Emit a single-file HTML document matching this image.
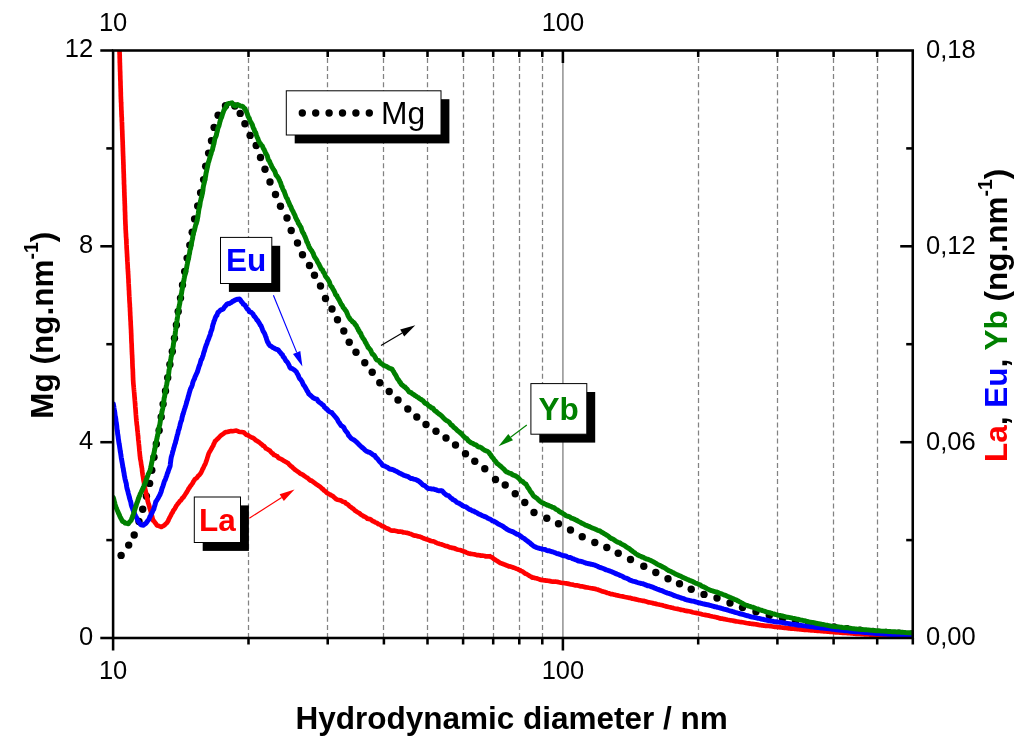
<!DOCTYPE html>
<html><head><meta charset="utf-8"><title>Hydrodynamic diameter</title>
<style>
html,body{margin:0;padding:0;background:#fff;}
svg{display:block;font-family:"Liberation Sans",Arial,sans-serif;}
.t{font-size:25.5px;fill:#000;}
.b{font-size:31.5px;font-weight:bold;fill:#000;}
</style></head><body>
<svg width="1024" height="743" viewBox="0 0 1024 743">
<rect width="1024" height="743" fill="#fff"/>
<defs><clipPath id="c"><rect x="113.1" y="50.5" width="799.65" height="587.5"/></clipPath></defs>
<g stroke="#828282" stroke-width="1.25" stroke-dasharray="5 3.1" fill="none">
<line x1="248.5" y1="638.0" x2="248.5" y2="50.5"/>
<line x1="327.5" y1="638.0" x2="327.5" y2="50.5"/>
<line x1="383.5" y1="638.0" x2="383.5" y2="50.5"/>
<line x1="427.5" y1="638.0" x2="427.5" y2="50.5"/>
<line x1="463.5" y1="638.0" x2="463.5" y2="50.5"/>
<line x1="493.5" y1="638.0" x2="493.5" y2="50.5"/>
<line x1="519.5" y1="638.0" x2="519.5" y2="50.5"/>
<line x1="542.5" y1="638.0" x2="542.5" y2="50.5"/>
<line x1="698.5" y1="638.0" x2="698.5" y2="50.5"/>
<line x1="777.5" y1="638.0" x2="777.5" y2="50.5"/>
<line x1="833.5" y1="638.0" x2="833.5" y2="50.5"/>
<line x1="877.5" y1="638.0" x2="877.5" y2="50.5"/>
</g>
<line x1="562.9" y1="50.5" x2="562.9" y2="638.0" stroke="#979797" stroke-width="1.6"/>
<g clip-path="url(#c)" fill="none" stroke-linejoin="round" stroke-linecap="round">
<g fill="#000" stroke="none"><circle cx="121.1" cy="555.4" r="3.7"/><circle cx="128.7" cy="545.1" r="3.7"/><circle cx="134.2" cy="535.0" r="3.7"/><circle cx="139.0" cy="521.5" r="3.7"/><circle cx="142.7" cy="509.2" r="3.7"/><circle cx="146.4" cy="496.2" r="3.7"/><circle cx="149.6" cy="483.4" r="3.7"/><circle cx="151.8" cy="470.3" r="3.7"/><circle cx="154.0" cy="457.2" r="3.7"/><circle cx="156.3" cy="444.0" r="3.7"/><circle cx="159.1" cy="430.5" r="3.7"/><circle cx="161.2" cy="417.0" r="3.7"/><circle cx="163.1" cy="404.1" r="3.7"/><circle cx="165.5" cy="390.9" r="3.7"/><circle cx="167.7" cy="377.8" r="3.7"/><circle cx="169.9" cy="364.5" r="3.7"/><circle cx="172.3" cy="351.4" r="3.7"/><circle cx="174.5" cy="338.2" r="3.7"/><circle cx="176.4" cy="325.0" r="3.7"/><circle cx="178.2" cy="311.5" r="3.7"/><circle cx="180.5" cy="298.1" r="3.7"/><circle cx="182.5" cy="285.0" r="3.7"/><circle cx="184.7" cy="271.5" r="3.7"/><circle cx="187.1" cy="258.1" r="3.7"/><circle cx="189.8" cy="245.1" r="3.7"/><circle cx="192.2" cy="232.2" r="3.7"/><circle cx="194.6" cy="218.9" r="3.7"/><circle cx="197.7" cy="205.9" r="3.7"/><circle cx="200.6" cy="192.7" r="3.7"/><circle cx="203.6" cy="179.6" r="3.7"/><circle cx="205.7" cy="166.2" r="3.7"/><circle cx="208.6" cy="153.1" r="3.7"/><circle cx="211.5" cy="140.8" r="3.7"/><circle cx="214.1" cy="127.4" r="3.7"/><circle cx="218.1" cy="115.3" r="3.7"/><circle cx="225.5" cy="105.8" r="3.7"/><circle cx="234.8" cy="106.0" r="3.7"/><circle cx="240.2" cy="113.4" r="3.7"/><circle cx="244.9" cy="123.7" r="3.7"/><circle cx="250.1" cy="135.4" r="3.7"/><circle cx="256.2" cy="145.5" r="3.7"/><circle cx="260.5" cy="157.5" r="3.7"/><circle cx="265.0" cy="169.2" r="3.7"/><circle cx="270.0" cy="182.0" r="3.7"/><circle cx="275.5" cy="194.5" r="3.7"/><circle cx="280.5" cy="206.2" r="3.7"/><circle cx="287.0" cy="218.0" r="3.7"/><circle cx="291.2" cy="230.5" r="3.7"/><circle cx="297.5" cy="243.0" r="3.7"/><circle cx="302.5" cy="254.8" r="3.7"/><circle cx="309.5" cy="265.5" r="3.7"/><circle cx="314.5" cy="275.2" r="3.7"/><circle cx="320.5" cy="286.0" r="3.7"/><circle cx="325.5" cy="298.5" r="3.7"/><circle cx="332.0" cy="309.0" r="3.7"/><circle cx="337.5" cy="319.8" r="3.7"/><circle cx="343.8" cy="331.0" r="3.7"/><circle cx="349.2" cy="342.2" r="3.7"/><circle cx="356.0" cy="352.2" r="3.7"/><circle cx="364.8" cy="362.8" r="3.7"/><circle cx="372.2" cy="372.2" r="3.7"/><circle cx="379.8" cy="382.8" r="3.7"/><circle cx="389.2" cy="391.5" r="3.7"/><circle cx="398.0" cy="400.0" r="3.7"/><circle cx="407.8" cy="409.0" r="3.7"/><circle cx="416.8" cy="417.0" r="3.7"/><circle cx="426.0" cy="424.5" r="3.7"/><circle cx="436.0" cy="431.2" r="3.7"/><circle cx="446.0" cy="438.0" r="3.7"/><circle cx="455.5" cy="445.0" r="3.7"/><circle cx="465.5" cy="453.8" r="3.7"/><circle cx="474.8" cy="461.2" r="3.7"/><circle cx="484.8" cy="468.8" r="3.7"/><circle cx="495.5" cy="479.5" r="3.7"/><circle cx="505.2" cy="485.0" r="3.7"/><circle cx="515.2" cy="493.8" r="3.7"/><circle cx="524.8" cy="502.5" r="3.7"/><circle cx="534.0" cy="512.5" r="3.7"/><circle cx="546.8" cy="518.2" r="3.7"/><circle cx="558.5" cy="523.8" r="3.7"/><circle cx="570.5" cy="530.0" r="3.7"/><circle cx="582.2" cy="536.8" r="3.7"/><circle cx="594.8" cy="542.5" r="3.7"/><circle cx="606.8" cy="547.5" r="3.7"/><circle cx="618.2" cy="553.2" r="3.7"/><circle cx="630.5" cy="559.5" r="3.7"/><circle cx="643.8" cy="566.2" r="3.7"/><circle cx="655.8" cy="572.5" r="3.7"/><circle cx="668.0" cy="578.8" r="3.7"/><circle cx="679.5" cy="583.8" r="3.7"/><circle cx="691.2" cy="589.2" r="3.7"/><circle cx="704.0" cy="594.4" r="3.7"/><circle cx="717.0" cy="598.0" r="3.7"/><circle cx="730.0" cy="603.0" r="3.7"/><circle cx="742.5" cy="607.6" r="3.7"/><circle cx="756.0" cy="611.8" r="3.7"/><circle cx="769.3" cy="615.4" r="3.7"/><circle cx="782.6" cy="618.5" r="3.7"/><circle cx="795.5" cy="621.2" r="3.7"/><circle cx="808.7" cy="623.6" r="3.7"/><circle cx="821.5" cy="625.6" r="3.7"/><circle cx="834.0" cy="627.0" r="3.7"/><circle cx="847.0" cy="628.7" r="3.7"/><circle cx="860.0" cy="630.2" r="3.7"/><circle cx="873.0" cy="631.5" r="3.7"/><circle cx="886.0" cy="632.5" r="3.7"/><circle cx="899.0" cy="633.3" r="3.7"/><circle cx="912.0" cy="634.0" r="3.7"/></g>
<polyline points="118.6,36.0 118.7,37.0 118.8,38.7 118.8,39.8 118.9,41.4 119.0,41.7 119.0,43.6 119.1,44.7 119.2,45.9 119.3,47.0 119.3,48.6 119.4,49.2 119.5,51.1 119.5,51.8 119.6,52.5 119.6,54.0 119.7,55.1 119.7,56.3 119.7,57.3 119.8,59.4 119.8,60.6 119.8,62.5 119.9,62.9 119.9,64.7 120.0,66.3 120.0,67.8 120.0,68.5 120.1,70.4 120.1,71.5 120.2,71.9 120.2,73.7 120.2,74.5 120.3,76.3 120.3,77.3 120.3,78.8 120.4,80.0 120.4,81.0 120.5,81.8 120.5,84.0 120.5,84.8 120.6,86.3 120.6,87.9 120.7,89.2 120.7,90.5 120.7,91.6 120.8,92.5 120.8,94.0 120.8,95.6 120.9,97.1 120.9,98.4 121.0,99.3 121.0,100.0 121.0,101.3 121.1,102.6 121.2,103.6 121.2,105.0 121.2,106.4 121.3,106.9 121.3,108.1 121.4,110.3 121.5,112.0 121.5,112.9 121.5,114.1 121.6,114.4 121.6,116.1 121.7,116.9 121.8,118.0 121.8,119.1 121.8,120.2 121.9,122.0 122.0,123.1 122.0,123.9 122.0,125.3 122.1,126.6 122.1,128.1 122.2,129.8 122.2,130.2 122.3,131.6 122.3,132.9 122.4,134.8 122.4,136.1 122.5,137.9 122.5,138.8 122.6,140.1 122.6,141.3 122.7,142.1 122.7,144.4 122.8,145.5 122.8,146.8 122.9,148.4 122.9,148.9 122.9,150.4 123.0,152.2 123.0,153.0 123.1,154.8 123.1,156.0 123.2,156.7 123.2,157.7 123.2,158.8 123.3,159.8 123.3,161.1 123.4,162.7 123.4,164.3 123.5,165.0 123.5,167.1 123.5,167.8 123.6,169.4 123.6,171.0 123.7,172.5 123.7,173.6 123.8,174.5 123.8,175.1 123.8,177.0 123.9,178.5 123.9,179.8 124.0,180.4 124.0,182.2 124.0,183.9 124.1,184.4 124.1,184.9 124.2,186.2 124.2,188.4 124.3,189.5 124.3,191.1 124.3,192.1 124.4,192.6 124.4,194.6 124.5,196.2 124.5,197.1 124.6,198.4 124.6,199.4 124.6,200.3 124.7,201.0 124.7,203.2 124.8,203.7 124.8,205.0 124.9,206.4 124.9,208.1 124.9,210.0 125.0,210.8 125.0,211.7 125.1,212.5 125.1,214.6 125.2,215.8 125.2,216.5 125.2,218.7 125.3,220.0 125.3,220.7 125.4,222.5 125.4,223.8 125.5,224.6 125.5,225.5 125.6,226.3 125.6,228.5 125.7,229.9 125.8,231.4 125.8,232.0 125.9,233.2 126.0,234.9 126.0,235.8 126.1,237.3 126.2,237.9 126.2,238.8 126.3,240.1 126.4,241.1 126.4,242.6 126.5,244.4 126.6,245.4 126.6,247.0 126.7,248.6 126.8,250.2 126.9,251.4 126.9,251.8 127.0,253.6 127.1,254.9 127.1,256.0 127.2,257.0 127.3,258.8 127.3,260.4 127.4,261.3 127.5,262.0 127.5,263.6 127.6,264.1 127.7,266.2 127.7,267.3 127.8,268.8 127.9,269.6 127.9,270.2 128.0,271.8 128.1,272.9 128.1,273.7 128.2,274.6 128.3,276.5 128.3,277.7 128.4,278.4 128.5,280.0 128.5,281.5 128.6,283.2 128.7,284.0 128.7,285.2 128.8,286.5 128.9,288.7 128.9,289.5 129.0,290.1 129.1,291.9 129.1,293.1 129.2,294.9 129.3,296.5 129.4,297.5 129.4,299.1 129.5,300.8 129.6,302.3 129.6,302.5 129.7,303.5 129.8,304.9 129.8,306.4 129.9,307.3 130.0,308.3 130.0,309.6 130.1,311.6 130.2,312.7 130.2,314.4 130.3,315.9 130.4,317.1 130.4,318.2 130.5,319.8 130.6,321.0 130.6,321.3 130.7,322.4 130.7,324.2 130.8,325.3 130.8,325.8 130.9,327.1 130.9,327.8 131.0,329.1 131.1,330.8 131.1,332.3 131.2,333.2 131.2,334.3 131.3,335.6 131.3,337.6 131.4,339.3 131.4,340.4 131.5,341.9 131.5,342.6 131.6,343.5 131.7,344.7 131.7,346.6 131.8,348.5 131.8,349.1 131.9,350.4 131.9,351.6 132.0,352.5 132.0,353.7 132.1,354.7 132.2,356.5 132.2,357.7 132.3,358.6 132.3,359.2 132.4,361.1 132.4,362.8 132.5,364.5 132.5,365.7 132.6,367.1 132.6,367.6 132.7,368.9 132.8,369.6 132.8,370.8 132.9,372.3 132.9,373.9 133.0,375.7 133.0,376.8 133.1,378.2 133.1,379.4 133.2,380.7 133.3,382.4 133.4,383.8 133.5,385.1 133.6,385.6 133.7,387.2 133.8,388.1 133.9,389.5 134.0,390.2 134.1,391.5 134.2,392.5 134.3,393.7 134.4,395.2 134.5,396.5 134.6,397.9 134.7,398.5 134.8,400.2 134.9,401.0 135.0,402.4 135.1,403.8 135.2,404.8 135.3,406.7 135.4,407.7 135.5,408.8 135.6,410.0 135.7,411.8 135.8,412.9 135.9,414.7 136.0,415.5 136.1,417.0 136.2,418.3 136.3,419.6 136.4,420.6 136.6,422.2 136.7,423.6 136.8,424.5 136.9,425.3 137.1,426.2 137.2,427.6 137.3,428.9 137.4,430.4 137.6,431.2 137.7,432.4 137.8,433.3 137.9,435.1 138.1,435.9 138.2,437.7 138.3,439.4 138.4,440.4 138.6,441.4 138.7,442.4 138.8,443.9 138.9,444.8 139.1,446.6 139.2,447.7 139.3,449.1 139.4,450.5 139.6,451.9 139.7,453.3 139.8,454.1 139.9,455.6 140.1,456.9 140.2,458.2 140.4,459.5 140.6,460.3 140.8,461.2 141.0,462.5 141.2,464.5 141.4,465.2 141.6,466.8 141.8,467.7 142.0,468.6 142.1,470.4 142.3,472.0 142.5,473.4 142.7,474.9 142.9,476.1 143.1,477.1 143.3,478.6 143.5,480.0 143.7,481.1 143.9,482.2 144.1,483.5 144.4,485.0 144.7,486.6 144.9,488.1 145.2,489.3 145.5,490.5 145.8,492.3 146.1,493.0 146.3,494.6 146.6,495.9 146.9,496.9 147.2,498.2 147.4,499.5 147.7,501.0 148.0,502.0 148.3,503.3 148.7,504.0 149.0,505.4 149.4,506.5 149.7,508.2 150.1,509.2 150.4,510.3 150.8,511.5 151.1,513.1 151.5,514.2 151.8,515.4 152.2,516.9 152.5,518.2 152.9,519.4 153.2,520.6 154.0,521.2 154.7,522.2 155.5,523.2 156.2,524.2 157.0,525.4 158.5,525.8 159.9,526.4 161.4,527.0 162.9,526.1 164.5,525.2 165.3,524.2 166.2,523.4 167.0,522.8 167.6,521.8 168.2,520.8 168.8,519.2 169.3,518.2 169.9,517.2 170.5,516.0 171.1,515.0 171.7,513.5 172.5,512.5 173.2,510.8 174.0,509.8 174.8,508.7 175.5,507.4 176.3,505.7 177.2,504.7 178.1,503.4 178.9,502.6 179.8,501.1 180.7,500.5 181.6,499.3 182.4,498.0 183.3,497.5 184.0,496.3 184.7,495.4 185.3,494.4 186.0,493.2 186.7,492.3 187.3,491.2 188.0,490.1 188.7,488.5 189.5,487.6 190.2,486.3 191.0,485.6 191.8,484.2 192.6,483.3 193.3,481.7 194.1,480.6 194.9,479.1 195.8,478.7 196.7,478.0 197.6,476.8 198.4,475.7 199.3,475.1 200.2,473.9 201.1,472.6 201.6,471.5 202.1,470.5 202.6,469.1 203.1,468.5 203.7,467.1 204.2,465.9 204.7,465.0 205.2,464.1 205.7,462.8 206.2,461.4 206.7,459.9 207.2,458.5 207.6,457.0 208.1,455.6 208.6,453.8 209.1,452.8 209.6,451.7 210.2,451.0 210.8,449.8 211.4,448.7 212.0,447.7 212.6,446.5 213.2,445.8 213.8,443.8 214.4,443.0 215.0,441.1 215.9,440.5 216.8,439.6 217.7,438.8 218.5,438.0 219.4,437.0 220.3,436.0 221.2,435.2 222.4,434.4 223.7,433.6 224.9,432.5 226.2,432.1 227.4,432.0 228.7,431.6 230.0,431.3 231.2,431.0 232.5,431.2 233.8,431.0 235.1,430.8 236.4,430.6 237.7,431.1 239.0,431.8 240.3,432.0 241.6,432.0 242.9,432.3 244.1,432.6 245.3,433.8 246.4,434.9 247.6,435.0 248.8,435.8 250.0,436.7 251.2,437.2 252.5,437.7 253.8,438.3 255.0,439.6 256.0,440.5 257.0,440.8 258.0,441.6 259.0,442.2 260.0,443.0 261.0,443.8 262.0,444.6 263.0,445.8 264.0,446.0 265.0,447.2 266.0,448.5 267.0,449.0 268.0,449.6 269.0,450.1 270.0,450.8 271.0,452.2 272.0,453.2 273.0,453.7 274.0,455.0 275.0,455.1 276.1,455.9 277.2,456.3 278.3,457.7 279.4,458.4 280.6,458.9 281.7,459.4 282.8,460.1 283.9,460.9 285.0,461.4 286.0,462.0 287.0,462.6 288.0,463.1 289.0,464.3 290.0,465.3 291.0,466.2 292.0,466.8 293.0,467.9 294.0,468.8 295.0,469.7 296.0,470.4 297.0,471.1 298.0,471.8 299.0,472.4 300.0,473.5 301.0,473.9 302.0,474.4 303.0,474.9 304.0,475.7 305.0,476.4 306.1,477.2 307.2,477.6 308.3,478.7 309.4,479.6 310.6,480.6 311.7,480.7 312.8,481.6 313.9,482.5 315.0,483.2 316.0,484.2 317.0,484.7 318.0,485.3 319.0,486.1 320.0,486.7 321.0,487.5 322.0,488.7 323.0,489.2 324.0,490.5 325.0,491.1 326.0,492.0 327.0,492.9 328.0,493.5 329.0,494.1 330.0,494.5 331.0,495.2 332.0,495.6 333.0,496.3 334.0,497.2 335.0,498.1 336.2,499.1 337.5,499.8 338.8,500.0 340.0,500.3 341.2,500.6 342.5,501.5 343.8,501.9 345.0,502.3 346.0,503.6 347.0,503.9 348.0,504.6 349.0,505.7 350.0,506.6 351.0,507.1 352.0,508.1 353.0,508.6 354.0,509.5 355.0,510.6 356.0,511.1 357.1,512.0 358.3,512.6 359.4,513.1 360.5,514.3 361.7,515.1 362.8,515.6 364.0,516.5 365.1,516.8 366.2,517.6 367.4,518.7 368.5,518.9 369.6,519.1 370.8,519.5 371.9,520.5 373.0,521.2 374.2,521.6 375.3,522.5 376.5,522.7 377.6,523.5 378.7,524.3 379.9,524.5 381.0,525.4 382.2,526.2 383.5,526.4 384.8,527.3 386.0,528.0 387.2,528.4 388.5,529.0 389.8,529.9 391.0,530.5 392.2,530.6 393.5,530.7 394.8,530.7 396.0,531.0 397.2,531.3 398.5,531.7 399.8,531.6 401.0,531.7 402.2,531.9 403.5,532.5 404.8,532.5 406.0,532.7 407.2,532.9 408.5,533.3 409.8,533.7 411.0,534.0 412.2,534.7 413.5,535.3 414.8,535.7 416.0,535.7 417.2,536.1 418.5,536.4 419.8,536.6 421.0,537.1 422.2,537.7 423.5,538.3 424.8,538.8 426.0,539.1 427.2,539.6 428.5,540.0 429.8,540.5 431.0,541.0 432.2,541.2 433.5,541.4 434.8,541.9 436.0,542.7 437.2,543.2 438.5,543.6 439.8,544.0 441.0,544.3 442.2,544.6 443.5,545.1 444.8,545.7 446.0,546.1 447.2,546.2 448.5,546.7 449.8,547.4 451.0,547.5 452.2,547.9 453.5,548.1 454.8,548.4 456.0,549.1 457.2,549.5 458.5,549.8 459.8,550.0 461.0,550.3 462.2,550.9 463.5,551.4 464.8,551.7 466.0,552.3 467.2,552.8 468.5,553.5 469.8,553.6 471.0,553.9 472.2,554.0 473.5,554.2 474.8,554.4 476.0,554.8 477.2,555.1 478.5,555.2 479.8,555.3 481.0,555.7 482.2,555.6 483.5,555.8 484.8,556.0 486.0,556.5 487.3,556.3 488.7,556.4 490.0,556.2 491.1,557.1 492.3,557.5 493.4,558.6 494.5,559.2 495.7,560.1 496.8,560.7 498.0,561.5 499.1,562.2 500.2,562.9 501.4,563.3 502.5,563.8 503.8,564.3 505.0,564.7 506.2,565.3 507.5,565.7 508.8,566.3 510.0,566.4 511.2,566.8 512.5,567.2 513.8,567.7 515.0,568.2 516.2,568.7 517.5,569.0 518.7,569.7 519.8,570.1 521.0,570.8 522.1,571.3 523.3,572.0 524.4,573.0 525.6,573.8 526.7,574.1 527.9,574.9 529.0,575.6 530.2,576.3 531.3,576.9 532.5,577.6 533.8,577.7 535.0,578.1 536.2,578.3 537.5,578.6 538.8,579.1 540.0,579.6 541.2,579.9 542.5,580.1 543.8,580.3 545.0,580.4 546.2,580.6 547.5,580.7 548.8,580.9 550.0,581.1 551.2,581.4 552.5,581.6 553.8,581.5 555.0,581.7 556.2,581.7 557.5,581.9 558.8,582.2 560.0,582.5 561.2,582.8 562.5,583.0 563.8,583.0 565.0,583.2 566.2,583.4 567.5,583.6 568.8,583.9 570.0,584.2 571.2,584.5 572.5,584.6 573.8,585.0 575.0,585.3 576.2,585.4 577.5,585.4 578.8,585.8 580.0,586.2 581.2,586.4 582.5,586.4 583.8,586.8 585.0,587.2 586.2,587.3 587.5,587.5 588.8,587.8 590.0,588.0 591.2,588.2 592.5,588.4 593.8,588.7 595.0,588.8 596.2,589.2 597.5,589.5 598.8,590.0 600.0,590.4 601.2,591.0 602.5,591.4 603.8,591.7 605.0,592.1 606.2,592.5 607.5,593.0 608.8,593.2 610.0,593.8 611.2,594.1 612.5,594.2 613.8,594.6 615.0,594.8 616.2,595.2 617.5,595.4 618.8,595.7 620.0,596.0 621.2,596.2 622.5,596.4 623.8,596.7 625.0,597.0 626.2,597.2 627.5,597.5 628.8,597.8 630.0,597.9 631.2,598.2 632.5,598.7 633.8,598.8 635.0,599.1 636.2,599.4 637.5,599.7 638.8,600.1 640.0,600.3 641.2,600.5 642.5,600.8 643.8,600.9 645.0,601.2 646.2,601.6 647.5,602.0 648.8,602.4 650.0,602.5 651.2,602.7 652.5,603.0 653.8,603.5 655.0,603.6 656.2,603.9 657.5,604.3 658.8,604.5 660.0,604.8 661.2,605.0 662.5,605.3 663.8,605.7 665.0,606.0 666.2,606.4 667.5,606.7 668.8,607.0 670.0,607.2 671.2,607.6 672.5,607.8 673.8,608.2 675.0,608.5 676.2,608.7 677.5,608.9 678.8,609.2 680.0,609.5 681.2,609.9 682.5,610.0 683.8,610.3 685.0,610.7 686.2,610.9 687.5,611.1 688.8,611.3 690.0,611.5 691.2,611.8 692.5,612.2 693.8,612.5 695.0,612.7 696.2,612.9 697.5,613.3 698.8,613.5 700.0,613.7 701.2,614.1 702.5,614.5 703.8,614.7 705.0,614.9 706.2,615.2 707.5,615.3 708.8,615.6 710.0,616.0 711.2,616.2 712.5,616.5 713.8,616.7 715.0,617.0 716.2,617.3 717.5,617.6 718.8,618.0 720.0,618.4 721.2,618.6 722.5,618.7 723.8,619.1 725.0,619.2 726.2,619.5 727.5,619.8 728.8,620.0 730.0,620.2 731.2,620.4 732.5,620.5 733.8,620.9 735.0,621.1 736.2,621.4 737.5,621.5 738.8,621.7 740.0,622.0 741.2,622.1 742.5,622.3 743.8,622.5 745.0,622.7 746.2,623.0 747.5,623.2 748.8,623.4 750.0,623.6 751.2,623.8 752.5,623.9 753.8,624.1 755.0,624.2 756.2,624.4 757.5,624.6 758.8,624.9 760.0,625.1 761.2,625.3 762.5,625.4 763.8,625.6 765.0,625.8 766.2,625.9 767.5,625.9 768.8,626.0 770.0,626.1 771.2,626.3 772.5,626.5 773.8,626.7 775.0,626.9 776.2,626.9 777.5,627.0 778.8,627.2 780.0,627.3 781.2,627.5 782.5,627.6 783.8,627.8 785.0,627.9 786.2,628.0 787.5,628.2 788.8,628.3 790.0,628.4 791.2,628.6 792.5,628.6 793.8,628.7 795.0,628.9 796.2,629.0 797.5,629.2 798.8,629.2 800.0,629.3 801.2,629.4 802.5,629.6 803.8,629.8 805.0,629.8 806.2,629.9 807.5,630.0 808.8,630.1 810.0,630.2 811.2,630.4 812.5,630.5 813.8,630.5 815.0,630.7 816.2,630.7 817.5,630.9 818.8,631.0 820.0,631.0 821.2,631.1 822.5,631.2 823.8,631.3 825.0,631.5 826.2,631.5 827.5,631.7 828.8,631.7 830.0,631.8 831.2,631.9 832.5,632.0 833.8,632.1 835.0,632.3 836.2,632.4 837.5,632.4 838.8,632.5 840.0,632.6 841.2,632.7 842.5,632.8 843.8,632.9 845.0,632.9 846.2,633.0 847.5,633.1 848.8,633.2 850.0,633.2 851.2,633.4 852.5,633.5 853.8,633.6 855.0,633.7 856.2,633.8 857.5,633.9 858.8,634.0 860.0,634.0 861.2,634.1 862.5,634.1 863.8,634.3 865.0,634.3 866.2,634.4 867.5,634.5 868.8,634.5 870.0,634.6 871.2,634.6 872.5,634.7 873.8,634.8 875.0,634.8 876.2,634.8 877.5,634.9 878.8,635.0 880.0,635.1 881.2,635.2 882.5,635.3 883.8,635.3 885.0,635.4 886.2,635.5 887.5,635.5 888.8,635.6 890.0,635.7 891.3,635.7 892.5,635.8 893.8,635.8 895.1,635.8 896.3,635.8 897.6,635.9 898.9,636.0 900.1,636.1 901.4,636.1 902.6,636.1 903.9,636.2 905.2,636.3 906.4,636.3 907.7,636.3 909.0,636.4 910.2,636.4 911.5,636.5 912.7,636.6 914.0,636.6" stroke="#ff0000" stroke-width="4.7"/>
<polyline points="113.4,404.0 113.6,406.0 113.8,406.2 114.0,408.1 114.2,409.3 114.4,410.6 114.6,411.6 114.8,412.6 115.0,414.4 115.2,416.0 115.3,416.7 115.5,417.1 115.7,418.4 115.9,419.9 116.0,421.4 116.2,422.1 116.4,423.2 116.6,425.0 116.8,426.3 116.9,428.1 117.1,429.5 117.3,431.0 117.5,432.0 117.6,433.5 117.8,434.8 118.0,435.7 118.2,437.1 118.3,438.4 118.5,439.6 118.7,441.2 118.9,442.5 119.1,443.8 119.3,444.5 119.5,445.8 119.7,447.3 119.9,448.6 120.1,450.0 120.2,450.9 120.4,452.2 120.6,453.0 120.8,454.5 121.0,455.7 121.2,457.3 121.4,458.6 121.6,459.6 121.8,460.7 122.0,461.8 122.2,462.9 122.5,464.6 122.7,465.8 122.9,467.3 123.2,468.2 123.4,469.6 123.6,471.1 123.9,472.4 124.1,473.5 124.3,475.3 124.6,476.5 124.8,477.7 125.1,479.3 125.4,480.1 125.7,481.7 126.0,482.6 126.3,483.7 126.5,485.5 126.8,487.2 127.1,488.7 127.4,489.6 127.7,490.8 128.0,491.7 128.3,493.3 128.6,494.5 129.0,495.6 129.3,497.2 129.6,498.4 129.9,499.3 130.2,500.3 130.6,501.4 130.9,502.8 131.2,504.6 131.7,506.4 132.1,507.4 132.6,508.6 133.1,510.1 133.6,511.4 134.1,512.5 134.5,513.3 135.0,514.6 135.6,516.0 136.2,517.0 136.8,518.2 137.4,519.7 138.0,521.0 139.0,522.2 140.0,523.8 141.0,524.8 142.2,525.0 143.5,525.2 144.8,524.0 146.0,523.3 146.9,522.1 147.8,520.7 148.8,519.6 149.4,518.0 150.0,516.5 150.6,515.7 151.2,514.1 151.9,513.0 152.5,511.7 153.1,510.2 153.8,509.3 154.1,508.0 154.4,506.7 154.8,505.6 155.1,504.6 155.5,502.9 155.8,501.7 156.5,500.9 157.2,499.6 157.9,498.5 158.6,497.3 159.3,495.8 160.0,494.7 160.4,493.4 160.8,492.6 161.2,491.6 161.6,489.9 162.0,488.6 162.4,487.4 162.8,486.6 163.2,485.3 163.6,484.0 164.1,482.3 164.7,480.5 165.2,479.9 165.7,478.5 166.2,476.8 166.7,475.8 167.1,474.4 167.5,472.9 168.0,472.3 168.4,470.6 168.8,469.5 169.2,468.5 169.7,467.2 170.1,466.3 170.3,464.7 170.4,463.0 170.6,462.0 170.8,460.4 170.9,459.2 171.1,458.5 171.2,457.3 171.6,456.2 171.9,455.0 172.3,453.8 172.6,452.1 173.0,450.9 173.3,450.1 173.7,448.2 174.0,447.4 174.3,446.3 174.7,444.7 175.0,443.8 175.4,443.0 175.7,441.2 176.1,440.1 176.4,439.0 176.7,437.4 177.1,435.9 177.4,434.6 177.8,433.6 178.1,432.3 178.4,430.5 178.8,429.7 179.1,428.9 179.4,427.7 179.8,426.1 180.1,424.7 180.5,423.2 180.8,422.0 181.1,421.3 181.5,420.4 181.8,419.2 182.1,417.3 182.5,416.0 182.8,414.4 183.2,413.9 183.5,412.5 183.9,411.3 184.3,409.9 184.6,408.8 185.0,407.8 185.4,406.5 185.8,405.3 186.2,403.9 186.6,402.6 186.9,401.2 187.3,400.0 187.7,399.0 188.1,397.1 188.5,395.7 188.9,394.5 189.2,393.1 189.6,392.0 190.0,390.4 190.4,389.2 190.9,387.9 191.3,387.5 191.8,386.1 192.2,385.1 192.7,383.0 193.1,381.6 193.6,380.4 194.0,379.6 194.5,378.7 194.9,377.3 195.4,376.1 195.8,375.4 196.2,374.3 196.7,373.3 197.2,372.4 197.6,371.3 198.1,369.5 198.5,368.2 199.0,366.5 199.4,365.6 199.9,364.3 200.3,362.8 200.8,360.9 201.2,359.6 201.7,359.3 202.2,358.1 202.6,356.5 203.1,355.4 203.5,353.7 204.0,351.9 204.4,351.1 204.9,349.1 205.3,347.7 205.8,346.4 206.2,345.0 206.7,344.1 207.1,343.0 207.5,341.2 207.9,340.7 208.3,339.6 208.8,338.4 209.2,337.1 209.6,336.0 210.0,335.3 210.4,333.8 210.7,332.4 211.1,331.3 211.5,330.3 211.8,329.8 212.2,328.0 212.5,326.3 212.9,324.8 213.3,323.6 213.6,323.0 214.0,321.1 214.6,320.2 215.1,318.4 215.7,316.8 216.3,315.9 216.9,315.5 217.4,313.7 218.0,312.4 219.0,311.7 220.0,310.6 221.1,309.8 222.1,309.6 223.1,309.1 224.1,307.6 225.1,306.3 226.1,305.1 227.1,304.0 228.2,303.6 229.2,303.7 230.2,303.0 231.4,302.5 232.6,301.4 233.8,300.9 235.0,300.1 236.5,299.5 238.0,299.1 239.5,299.0 240.4,299.9 241.4,301.7 242.4,302.6 243.3,304.2 244.1,304.5 245.0,305.2 245.8,306.7 246.7,308.1 247.5,309.2 248.4,309.7 249.2,311.5 250.1,312.0 251.1,312.1 252.1,313.2 253.0,313.9 253.8,315.9 254.6,316.5 255.3,317.3 256.1,318.5 256.9,319.9 257.7,320.5 258.4,321.8 259.0,322.7 259.7,323.8 260.3,325.1 261.0,325.8 261.5,326.9 262.1,328.5 262.6,329.9 263.1,331.2 263.7,332.0 264.2,332.9 264.7,333.8 265.1,334.8 265.6,336.3 266.1,337.3 266.5,339.0 267.0,340.4 267.6,342.1 268.2,342.6 268.7,344.1 269.3,344.7 269.9,345.7 271.3,346.3 272.6,347.4 274.0,348.0 275.1,348.8 276.2,349.3 277.3,349.5 278.4,350.0 279.4,351.6 280.5,352.7 281.5,354.2 282.4,354.7 283.2,356.8 284.1,357.5 285.0,359.2 285.8,360.7 286.7,361.4 287.5,362.5 288.3,363.8 289.1,365.3 289.8,367.3 290.6,368.3 292.1,368.4 293.5,369.4 294.9,370.5 296.3,371.8 297.0,373.3 297.6,374.2 298.3,375.5 299.0,377.2 299.7,378.7 300.4,379.2 301.2,380.4 301.9,381.3 302.6,382.9 303.3,384.7 304.1,385.5 304.8,386.6 305.5,387.9 306.3,389.2 307.1,390.9 307.9,391.9 308.7,393.8 309.5,394.5 310.7,395.4 311.8,396.5 313.0,397.6 314.3,398.4 315.7,398.9 317.0,399.2 318.1,401.2 319.2,402.2 320.4,403.0 321.5,403.8 322.5,404.9 323.5,405.3 324.4,407.1 325.4,408.0 326.4,409.0 327.3,409.5 328.2,410.7 329.2,411.6 330.1,412.0 331.0,412.3 332.0,412.8 332.9,414.1 333.9,415.2 334.8,416.3 335.8,417.5 336.6,418.4 337.5,419.7 338.3,421.6 339.2,422.6 340.0,423.9 341.1,425.5 342.3,426.2 343.4,427.0 344.1,428.0 344.9,429.9 345.6,430.8 346.3,431.7 347.1,432.6 347.8,433.5 348.5,435.4 349.3,436.1 350.0,437.0 351.2,438.4 352.4,439.1 353.6,439.7 354.8,440.6 356.0,441.6 357.0,442.6 358.0,443.6 359.0,444.6 360.0,445.5 361.0,446.5 362.0,447.4 363.0,448.1 364.0,449.0 365.0,450.1 366.0,450.9 367.1,451.4 368.2,452.0 369.3,452.1 370.4,452.9 371.5,453.6 372.6,454.4 373.7,455.2 374.8,455.5 375.5,456.9 376.3,457.9 377.1,458.4 377.9,459.2 378.7,460.5 379.5,461.5 380.3,462.3 381.1,463.0 381.9,464.2 382.7,465.5 383.5,465.8 384.8,466.0 386.0,466.8 387.2,467.1 388.5,468.3 389.8,469.0 391.0,469.2 392.2,469.5 393.5,469.8 394.6,470.6 395.8,471.0 396.9,471.6 398.0,472.2 399.2,473.1 400.3,473.4 401.5,474.1 402.6,474.5 403.7,475.4 404.9,475.6 406.0,476.0 407.2,476.3 408.5,476.8 409.8,477.9 411.0,478.5 412.2,478.5 413.5,479.1 414.8,479.4 416.0,479.7 417.2,480.4 418.5,480.9 419.5,481.7 420.5,482.5 421.5,483.6 422.5,484.6 423.5,485.3 424.5,485.5 425.5,486.2 426.5,487.3 427.5,488.1 428.5,488.5 429.8,488.6 431.0,488.8 432.2,489.1 433.5,489.0 434.8,489.6 436.0,489.7 437.2,490.3 438.5,490.7 439.8,490.8 441.0,490.6 442.2,490.9 443.3,492.1 444.4,493.5 445.4,494.1 446.5,495.1 447.5,495.4 448.6,495.7 449.7,496.8 450.7,497.9 451.8,498.4 452.8,499.6 453.9,500.1 454.9,500.5 456.0,501.6 457.1,502.5 458.3,503.0 459.4,503.3 460.5,504.3 461.7,504.8 462.8,505.8 464.0,506.4 465.1,506.6 466.2,507.1 467.4,507.9 468.5,508.8 469.6,509.6 470.8,509.8 471.9,510.7 473.0,510.9 474.2,511.4 475.3,512.1 476.5,512.5 477.6,513.3 478.7,514.0 479.9,514.3 481.0,515.1 482.1,515.6 483.3,516.0 484.4,516.5 485.5,516.8 486.7,517.4 487.8,518.2 489.0,518.7 490.1,519.2 491.2,519.8 492.4,520.9 493.5,521.1 494.6,521.6 495.8,522.2 496.9,523.0 498.0,523.9 499.2,524.3 500.3,525.0 501.5,525.5 502.6,526.2 503.7,526.9 504.9,527.9 506.0,528.5 507.2,529.4 508.3,530.0 509.5,530.6 510.6,531.0 511.8,531.5 512.9,531.7 514.1,532.7 515.2,533.1 516.4,533.9 517.5,534.4 518.7,534.7 519.8,535.6 521.0,536.4 522.0,537.3 523.0,538.0 524.0,538.3 525.0,539.2 526.0,540.0 527.0,540.7 528.0,541.5 529.0,542.3 530.0,542.9 531.0,544.0 532.0,544.8 533.0,545.6 534.0,546.4 535.0,546.8 536.0,547.3 537.3,547.7 538.6,548.2 539.9,548.5 541.1,548.6 542.4,549.3 543.7,549.4 545.0,549.5 546.2,550.2 547.5,550.7 548.8,550.7 550.0,551.1 551.2,551.5 552.5,551.8 553.8,552.3 555.0,552.6 556.2,553.2 557.5,553.8 558.8,553.8 560.0,554.5 561.2,554.9 562.5,555.4 563.8,555.8 565.0,555.8 566.2,556.2 567.5,557.0 568.8,557.5 570.0,557.5 571.2,557.8 572.5,558.7 573.8,559.0 575.0,559.6 576.2,559.9 577.5,560.6 578.8,561.1 580.0,561.2 581.2,561.4 582.5,561.8 583.8,562.3 585.0,562.7 586.2,563.2 587.5,563.4 588.8,563.8 590.0,563.9 591.2,564.4 592.5,564.5 593.8,564.8 595.0,565.1 596.2,565.8 597.5,566.3 598.8,567.0 600.0,567.5 601.2,567.7 602.5,568.2 603.8,568.7 605.0,569.4 606.2,569.9 607.5,570.2 608.8,570.7 610.0,571.1 611.2,571.5 612.4,572.1 613.5,572.5 614.7,573.1 615.9,573.6 617.1,574.1 618.2,574.5 619.4,575.1 620.6,575.6 621.8,576.0 622.9,576.7 624.1,577.5 625.3,577.9 626.5,578.2 627.6,578.7 628.8,579.4 630.0,580.2 631.2,580.5 632.5,581.1 633.8,581.4 635.0,581.7 636.2,582.0 637.5,582.5 638.8,582.9 640.0,583.2 641.2,583.5 642.5,583.6 643.8,584.2 645.0,584.6 646.2,585.1 647.5,585.7 648.8,585.8 650.0,586.3 651.2,586.8 652.4,587.0 653.5,587.5 654.7,588.2 655.9,588.5 657.1,589.1 658.2,589.4 659.4,589.9 660.6,590.3 661.8,590.7 662.9,591.1 664.1,591.7 665.3,592.2 666.5,592.7 667.6,593.1 668.8,593.4 670.0,593.8 671.2,594.2 672.5,594.8 673.8,595.4 675.0,595.9 676.2,596.2 677.5,596.7 678.8,597.1 680.0,597.5 681.2,598.0 682.5,598.3 683.8,598.6 685.0,599.3 686.2,599.7 687.5,600.1 688.8,600.3 690.0,600.6 691.2,601.0 692.5,601.1 693.8,601.3 695.0,601.8 696.2,602.0 697.5,602.4 698.8,602.9 700.0,603.0 701.2,603.3 702.5,603.7 703.8,603.9 705.0,604.3 706.2,604.5 707.5,604.7 708.8,605.0 710.0,605.3 711.2,605.7 712.5,606.0 713.8,606.5 715.0,606.7 716.2,606.9 717.5,607.4 718.8,607.6 720.0,608.0 721.2,608.2 722.5,608.7 723.8,609.1 725.0,609.4 726.2,609.7 727.5,610.0 728.8,610.5 730.0,610.9 731.2,611.2 732.5,611.5 733.8,611.9 735.0,612.3 736.2,612.6 737.5,613.0 738.8,613.4 740.0,613.8 741.2,614.0 742.5,614.3 743.8,614.7 745.0,615.1 746.2,615.5 747.5,615.7 748.8,616.1 750.0,616.5 751.2,616.8 752.5,617.1 753.8,617.3 755.0,617.6 756.2,617.8 757.5,618.2 758.8,618.4 760.0,618.7 761.2,619.0 762.5,619.2 763.8,619.5 765.0,619.9 766.2,620.0 767.5,620.3 768.8,620.7 770.0,620.9 771.2,621.1 772.5,621.2 773.8,621.5 775.0,621.7 776.2,621.8 777.5,622.0 778.8,622.1 780.0,622.3 781.2,622.4 782.5,622.6 783.8,622.9 785.0,623.2 786.2,623.3 787.5,623.4 788.8,623.6 790.0,623.8 791.2,624.1 792.5,624.3 793.8,624.4 795.0,624.5 796.2,624.8 797.5,625.0 798.8,625.2 800.0,625.3 801.2,625.4 802.5,625.6 803.8,625.8 805.0,625.9 806.2,626.0 807.5,626.2 808.8,626.3 810.0,626.5 811.2,626.7 812.5,626.8 813.8,627.0 815.0,627.2 816.2,627.3 817.5,627.5 818.8,627.6 820.0,627.8 821.2,628.0 822.5,628.1 823.8,628.2 825.0,628.3 826.2,628.5 827.5,628.6 828.8,628.7 830.0,628.9 831.2,629.0 832.5,629.2 833.8,629.4 835.0,629.6 836.2,629.7 837.5,629.8 838.8,630.0 840.0,630.1 841.2,630.2 842.5,630.3 843.8,630.5 845.0,630.7 846.2,630.8 847.5,630.9 848.8,631.1 850.0,631.3 851.2,631.3 852.5,631.5 853.8,631.6 855.0,631.7 856.2,631.8 857.5,631.8 858.8,631.9 860.0,632.0 861.2,632.1 862.5,632.2 863.8,632.3 865.0,632.5 866.2,632.6 867.5,632.6 868.8,632.8 870.0,632.9 871.2,633.0 872.5,633.1 873.8,633.2 875.0,633.4 876.2,633.5 877.5,633.5 878.8,633.6 880.0,633.7 881.3,633.8 882.5,633.9 883.8,634.1 885.0,634.1 886.3,634.1 887.6,634.2 888.8,634.3 890.1,634.4 891.3,634.4 892.6,634.5 893.9,634.6 895.1,634.7 896.4,634.8 897.6,634.9 898.9,635.0 900.1,635.0 901.4,635.1 902.7,635.2 903.9,635.3 905.2,635.3 906.4,635.4 907.7,635.4 909.0,635.5 910.2,635.6 911.5,635.6 912.7,635.7 914.0,635.7" stroke="#0000ff" stroke-width="4.95"/>
<polyline points="113.3,497.5 113.6,498.7 114.0,500.2 114.3,501.6 114.7,502.8 115.0,504.1 115.5,505.9 116.0,507.2 116.5,508.3 117.0,509.6 117.5,510.8 118.0,511.9 118.5,513.3 119.0,514.1 119.5,515.5 120.1,516.8 120.7,518.0 121.3,519.0 121.9,520.2 122.5,521.4 123.8,521.8 125.0,523.0 126.7,523.4 128.3,523.7 129.1,522.6 129.8,521.7 130.6,520.9 131.3,520.1 131.7,518.7 132.2,517.7 132.6,516.6 133.0,515.2 133.4,514.0 133.9,512.3 134.3,511.4 134.7,509.8 135.2,508.4 135.6,507.1 136.0,506.0 136.4,504.5 136.8,503.2 137.3,502.2 137.7,500.9 138.2,499.3 138.7,498.0 139.2,496.5 139.7,495.4 140.2,494.0 140.7,493.0 141.2,492.2 141.7,490.9 142.2,489.8 142.7,488.7 143.2,487.8 143.8,486.4 144.3,484.9 144.8,484.2 145.3,482.7 145.8,481.4 146.2,479.9 146.6,478.8 147.0,477.8 147.4,476.6 147.8,475.6 148.4,473.8 148.9,473.2 149.4,471.9 150.0,470.8 150.3,469.4 150.6,468.1 150.9,466.6 151.2,465.5 151.4,464.3 151.7,462.7 152.0,461.6 152.3,459.9 152.6,458.7 152.9,457.1 153.2,456.1 153.6,454.8 153.9,453.2 154.2,452.2 154.5,450.3 154.7,449.0 155.0,448.3 155.2,446.6 155.5,445.9 155.7,444.8 156.0,442.9 156.2,442.0 156.5,440.6 156.7,439.3 157.0,438.4 157.2,436.8 157.4,436.4 157.7,435.2 157.9,434.2 158.1,433.2 158.4,431.9 158.6,430.1 158.8,428.4 159.1,427.4 159.3,426.2 159.6,425.4 159.8,424.6 160.0,423.4 160.3,421.4 160.5,419.9 160.7,419.0 160.9,417.9 161.2,416.7 161.4,415.3 161.6,414.3 161.8,412.8 162.0,411.8 162.2,410.4 162.4,409.9 162.7,408.5 162.9,407.3 163.1,405.2 163.3,403.8 163.6,402.7 163.8,401.5 164.0,399.5 164.2,397.8 164.4,397.7 164.7,395.8 164.9,394.4 165.1,393.3 165.4,392.3 165.6,390.6 165.8,389.2 166.0,388.5 166.2,386.6 166.4,385.6 166.6,384.9 166.8,384.0 167.0,382.4 167.3,381.3 167.5,380.1 167.7,378.7 167.9,377.7 168.1,375.9 168.3,375.1 168.5,374.4 168.7,373.5 168.9,371.5 169.1,369.8 169.3,369.1 169.5,368.1 169.7,366.9 169.9,364.8 170.1,362.8 170.4,361.9 170.6,359.9 170.9,359.1 171.1,357.3 171.3,356.1 171.6,355.5 171.8,354.8 172.1,353.2 172.3,351.9 172.5,350.3 172.7,349.3 173.0,347.1 173.2,346.2 173.4,344.4 173.6,343.0 173.8,342.2 174.1,340.6 174.3,339.1 174.5,337.5 174.7,337.0 174.9,335.6 175.1,334.5 175.3,333.2 175.4,331.7 175.6,330.6 175.8,328.7 176.0,328.0 176.2,326.5 176.4,324.6 176.6,323.1 176.8,321.7 176.9,321.1 177.1,319.6 177.3,318.5 177.5,317.1 177.7,315.2 177.8,313.9 178.0,312.2 178.2,311.1 178.4,309.8 178.7,308.8 178.9,307.8 179.1,306.9 179.3,305.5 179.6,304.4 179.8,303.3 180.0,301.4 180.3,299.7 180.5,299.0 180.7,297.8 181.0,295.7 181.2,294.2 181.5,293.7 181.7,292.1 181.9,290.6 182.2,289.4 182.4,287.7 182.7,286.3 182.9,285.3 183.1,283.5 183.4,282.5 183.6,281.1 183.9,280.6 184.1,279.0 184.4,277.5 184.6,276.2 184.9,275.4 185.1,274.5 185.4,273.4 185.6,271.7 185.9,270.7 186.2,269.1 186.5,268.5 186.8,266.6 187.1,265.0 187.3,264.0 187.6,262.3 187.9,261.1 188.2,259.5 188.5,258.2 188.8,257.2 189.0,255.5 189.3,254.3 189.6,253.1 189.8,251.3 190.1,249.7 190.4,249.0 190.7,247.9 190.9,246.1 191.2,245.0 191.5,243.4 191.7,242.3 192.0,240.6 192.3,239.6 192.6,238.4 192.8,236.6 193.1,234.9 193.4,234.5 193.6,232.7 193.9,231.7 194.2,231.2 194.6,229.7 194.9,228.1 195.2,227.0 195.6,225.3 195.9,224.4 196.2,223.7 196.5,222.7 196.9,221.3 197.2,220.3 197.4,218.9 197.6,217.8 197.9,216.4 198.1,214.5 198.3,213.5 198.5,212.2 198.7,210.5 199.0,208.8 199.2,208.0 199.4,207.1 199.7,206.0 199.9,204.8 200.2,202.6 200.5,200.9 200.8,200.2 201.0,199.0 201.3,197.8 201.6,196.9 201.8,196.0 202.1,194.5 202.4,193.4 202.6,192.1 202.9,190.6 203.1,188.2 203.4,186.3 203.7,184.9 203.9,184.2 204.2,182.9 204.5,181.4 204.8,180.4 205.0,178.9 205.3,177.9 205.6,176.3 205.8,174.9 206.1,172.8 206.4,171.9 206.7,170.3 207.1,168.5 207.4,167.1 207.8,165.2 208.1,163.9 208.4,162.3 208.8,161.4 209.1,160.3 209.5,158.9 209.9,157.5 210.3,156.0 210.7,154.8 211.1,153.8 211.5,151.8 211.9,151.0 212.3,150.0 212.6,149.1 212.9,147.2 213.2,146.5 213.5,144.8 213.8,144.2 214.1,142.7 214.5,140.6 214.8,139.1 215.1,137.8 215.5,137.4 215.8,136.7 216.1,135.9 216.5,134.6 216.8,132.8 217.1,131.9 217.5,130.4 217.8,128.7 218.1,127.7 218.4,127.1 218.8,126.2 219.1,125.2 219.4,124.1 219.8,122.2 220.1,121.3 220.6,119.3 221.1,118.4 221.6,117.2 222.1,115.5 222.5,114.2 223.0,112.9 223.5,111.5 224.0,110.1 224.6,109.3 225.2,108.3 225.8,107.3 226.4,105.3 227.6,103.9 228.7,103.5 230.3,103.2 232.0,102.8 232.8,103.8 233.6,105.3 235.2,106.0 236.4,105.4 237.6,104.6 239.0,105.2 240.3,106.0 241.7,106.1 242.8,106.5 243.8,107.8 244.9,108.5 245.5,110.0 246.2,111.1 246.8,112.7 247.5,114.5 248.1,116.4 248.6,117.3 249.2,118.2 249.7,119.9 250.2,121.1 250.8,122.0 251.3,123.0 251.9,124.0 252.4,124.9 252.9,126.8 253.5,128.4 254.1,129.2 254.6,131.2 255.2,131.9 255.7,132.6 256.3,134.7 256.9,136.6 257.5,137.9 258.0,138.9 258.6,140.8 259.4,142.2 260.2,143.2 261.0,144.8 261.8,145.5 262.3,145.9 262.9,147.4 263.4,148.6 264.0,149.3 264.5,150.4 265.1,151.8 265.6,153.4 266.2,153.9 266.7,154.9 267.3,156.0 267.8,158.0 268.4,160.0 268.9,160.5 269.5,161.3 270.0,162.7 270.6,163.9 271.2,164.9 271.8,166.8 272.4,167.4 272.9,168.6 273.5,169.3 274.1,170.4 274.7,171.0 275.3,172.8 275.9,174.7 276.5,175.8 277.1,175.9 277.6,177.0 278.2,177.8 278.8,178.8 279.4,180.3 280.0,181.6 280.5,182.5 281.1,184.4 281.6,186.3 282.1,186.8 282.6,188.5 283.2,189.8 283.7,190.8 284.2,191.3 284.7,193.1 285.3,194.7 285.8,196.1 286.3,197.5 286.8,198.3 287.4,198.8 287.9,200.6 288.4,201.8 288.9,202.7 289.5,204.2 290.0,205.6 290.6,206.2 291.1,207.4 291.7,209.2 292.2,210.0 292.8,211.1 293.3,212.0 293.9,213.6 294.4,214.3 295.0,215.5 295.6,217.5 296.1,218.4 296.7,219.7 297.2,220.6 297.8,221.3 298.3,223.3 298.9,223.9 299.4,224.6 300.0,225.9 300.5,226.6 301.1,227.6 301.6,229.3 302.1,231.1 302.6,232.2 303.2,233.1 303.7,233.7 304.2,235.0 304.7,236.1 305.3,237.4 305.8,238.6 306.3,240.0 306.8,241.8 307.4,242.3 307.9,243.8 308.4,244.8 308.9,246.3 309.5,247.9 310.0,248.3 310.6,249.5 311.2,250.2 311.9,250.8 312.5,252.3 313.1,253.0 313.8,255.3 314.4,256.7 315.0,257.5 315.6,258.6 316.2,259.2 316.9,260.4 317.5,262.0 318.1,262.9 318.8,263.9 319.4,265.2 320.0,266.5 320.6,267.6 321.2,269.2 321.9,269.3 322.5,269.8 323.1,271.6 323.8,272.7 324.4,273.2 325.0,275.1 325.6,276.3 326.2,277.2 326.9,278.1 327.5,278.7 328.1,279.8 328.8,280.8 329.4,282.0 330.0,284.1 330.6,285.6 331.2,286.3 331.9,286.9 332.5,288.2 333.1,289.2 333.8,290.4 334.4,291.6 335.0,293.0 335.6,294.6 336.2,295.3 336.9,295.7 337.5,297.6 338.1,298.2 338.8,299.6 339.4,300.4 340.0,301.9 340.6,303.0 341.2,304.3 341.9,304.9 342.5,305.8 343.1,307.4 343.8,308.2 344.4,308.8 345.0,309.9 345.6,310.4 346.2,311.2 346.9,312.9 347.5,314.2 348.1,315.9 348.8,317.2 349.4,317.9 350.0,319.1 350.9,320.0 351.7,320.5 352.6,322.1 353.4,322.2 354.3,323.0 355.1,324.5 356.0,325.2 356.6,326.4 357.2,327.8 357.9,328.6 358.5,330.4 359.1,330.8 359.8,332.6 360.4,332.8 361.0,334.1 361.6,336.0 362.2,336.7 362.9,338.2 363.5,338.8 364.1,339.7 364.8,340.8 365.4,342.4 366.0,343.0 366.7,344.6 367.4,345.7 368.1,347.5 368.9,348.1 369.6,349.0 370.3,349.7 371.0,351.1 371.7,352.7 372.4,354.2 373.1,354.3 373.9,355.2 374.6,356.2 375.3,357.4 376.0,358.9 376.9,360.1 377.9,360.2 378.8,360.6 379.8,362.0 380.7,363.2 381.6,363.9 382.6,364.3 383.5,365.4 384.8,365.7 386.0,366.2 387.2,366.9 388.5,367.7 389.8,368.4 391.0,368.7 392.2,369.3 392.9,370.7 393.6,371.4 394.3,373.1 394.9,374.0 395.6,375.0 396.3,376.2 397.0,377.9 397.6,378.8 398.3,379.6 399.0,380.7 399.7,382.0 400.3,382.4 401.0,383.9 402.0,384.9 403.0,385.6 404.0,386.7 405.0,386.9 406.0,388.3 407.0,389.0 408.0,390.4 409.0,391.8 410.0,392.4 411.0,392.4 412.0,393.5 413.0,394.2 414.0,394.7 415.0,395.6 416.0,396.0 417.0,396.9 418.0,397.4 419.0,398.1 420.0,399.0 421.0,399.4 422.0,400.1 423.0,400.6 424.0,402.0 425.0,403.3 426.0,403.5 427.0,403.9 428.0,405.1 429.0,406.2 430.0,406.4 431.0,407.4 432.0,408.1 433.1,408.3 434.1,410.0 435.2,411.1 436.2,411.4 437.2,412.5 438.3,413.4 439.3,414.2 440.4,414.9 441.4,415.7 442.5,416.8 443.5,418.0 444.5,418.9 445.4,419.8 446.4,420.5 447.3,420.9 448.3,421.5 449.3,422.4 450.2,423.7 451.2,425.1 452.2,425.4 453.1,426.5 454.1,427.6 455.0,428.1 456.0,429.2 456.9,430.0 457.8,430.9 458.7,431.6 459.6,432.1 460.5,433.3 461.4,433.4 462.2,434.7 463.1,435.8 464.0,436.7 464.9,437.5 465.8,438.2 466.7,438.6 467.6,439.7 468.5,441.0 469.6,441.7 470.7,442.5 471.8,443.1 472.9,443.4 474.1,444.4 475.2,444.7 476.3,445.1 477.4,446.2 478.5,447.0 479.8,447.0 481.0,447.6 482.2,448.5 483.5,449.5 484.8,450.3 486.0,450.9 487.2,451.1 488.5,452.1 489.2,452.9 490.0,454.2 490.8,455.0 491.5,456.4 492.2,457.3 493.0,458.0 493.8,459.1 494.5,460.5 495.2,460.9 496.0,461.8 497.0,463.5 498.0,464.0 499.0,464.9 500.0,465.7 501.0,466.5 502.0,467.5 503.0,468.4 504.0,469.2 505.0,470.5 506.0,471.6 507.2,472.1 508.5,472.7 509.8,473.4 511.0,473.5 512.2,474.5 513.5,475.2 514.8,475.6 516.0,476.1 517.0,476.9 518.0,477.6 519.0,478.4 520.0,479.7 521.0,480.9 522.0,481.3 523.0,481.8 524.0,483.0 525.0,483.6 526.0,484.2 526.8,485.5 527.5,487.1 528.2,488.0 529.0,488.9 529.8,490.4 530.5,491.6 531.2,492.4 532.0,493.4 532.8,494.9 533.5,495.9 534.6,496.8 535.7,497.6 536.8,498.2 537.9,499.3 539.0,500.3 540.1,501.3 541.2,502.2 542.2,502.6 543.5,503.3 544.8,504.0 546.0,504.4 547.2,505.2 548.5,505.3 549.8,506.1 551.0,506.4 552.2,507.2 553.5,507.4 554.6,508.1 555.8,509.2 557.0,509.7 558.1,510.3 559.2,511.4 560.4,512.2 561.5,512.6 562.7,513.4 563.9,514.1 565.0,514.8 566.2,515.8 567.5,516.3 568.8,516.5 570.0,517.0 571.2,518.1 572.5,518.5 573.8,518.8 575.0,519.5 576.1,520.1 577.3,520.6 578.4,521.3 579.5,521.9 580.7,522.5 581.8,523.4 583.0,523.7 584.1,524.3 585.2,525.1 586.4,525.4 587.5,525.8 588.8,526.4 590.0,526.9 591.2,527.5 592.5,528.1 593.8,528.5 595.0,529.0 596.2,529.6 597.5,530.2 598.8,530.7 600.0,531.0 601.1,531.8 602.3,532.5 603.4,533.2 604.5,533.9 605.7,534.5 606.8,535.3 608.0,535.9 609.1,536.8 610.2,537.8 611.4,538.5 612.5,538.8 613.7,539.6 614.8,540.4 616.0,541.2 617.1,541.9 618.3,542.3 619.4,542.6 620.6,543.5 621.7,544.1 622.9,544.7 624.0,545.2 625.2,546.1 626.3,546.9 627.5,547.7 628.5,548.3 629.5,548.8 630.5,549.8 631.5,550.4 632.5,551.3 633.5,552.0 634.5,552.6 635.5,553.6 636.5,554.1 637.5,554.9 638.7,555.4 639.8,556.0 641.0,556.4 642.1,557.1 643.3,557.3 644.4,558.1 645.6,558.5 646.7,559.1 647.9,559.2 649.0,559.7 650.2,560.2 651.3,560.8 652.5,561.4 653.7,562.0 654.8,562.7 656.0,563.4 657.1,564.1 658.3,564.7 659.4,565.2 660.6,565.9 661.7,566.3 662.9,567.1 664.0,567.5 665.2,568.3 666.3,569.1 667.5,569.8 668.7,570.6 669.8,571.0 671.0,571.5 672.1,572.2 673.3,572.7 674.4,573.4 675.6,574.1 676.7,574.5 677.9,575.0 679.0,575.6 680.2,575.9 681.3,576.4 682.5,577.3 683.7,577.7 684.8,578.2 686.0,578.8 687.1,579.3 688.3,579.6 689.4,580.3 690.6,580.7 691.7,581.2 692.9,581.6 694.0,582.3 695.2,582.9 696.3,583.4 697.5,583.7 698.6,584.2 699.8,584.7 700.9,585.4 702.0,586.2 703.2,586.7 704.3,587.1 705.5,587.7 706.6,588.5 707.7,589.1 708.9,589.5 710.0,590.2 711.2,590.5 712.5,590.9 713.8,591.3 715.0,591.7 716.2,591.9 717.5,592.4 718.8,592.9 720.0,593.5 721.2,593.7 722.5,594.3 723.7,594.8 724.9,595.2 726.1,595.6 727.3,596.2 728.5,596.7 729.7,597.3 730.9,597.7 732.1,598.2 733.3,598.7 734.5,599.4 735.8,599.8 736.9,600.3 738.1,601.1 739.2,601.6 740.4,602.2 741.5,602.8 742.7,603.5 743.8,604.2 745.0,604.8 746.2,605.2 747.5,605.6 748.8,606.1 750.0,606.4 751.2,606.8 752.5,607.1 753.8,607.7 755.0,608.1 756.2,608.5 757.5,608.9 758.8,609.4 760.0,609.8 761.2,610.1 762.5,610.6 763.8,611.0 765.0,611.4 766.2,611.8 767.5,612.2 768.8,612.5 770.0,612.7 771.2,613.2 772.5,613.6 773.8,613.9 775.0,614.4 776.2,614.7 777.5,615.0 778.8,615.4 780.0,615.5 781.2,615.8 782.5,616.0 783.8,616.3 785.0,616.7 786.2,617.0 787.5,617.2 788.8,617.4 790.0,617.6 791.2,617.9 792.5,618.2 793.8,618.4 795.0,618.7 796.2,619.0 797.5,619.2 798.8,619.5 800.0,619.8 801.2,620.1 802.5,620.3 803.8,620.6 805.0,620.8 806.2,621.2 807.5,621.5 808.8,621.8 810.0,622.1 811.2,622.3 812.5,622.4 813.8,622.7 815.0,623.0 816.2,623.3 817.5,623.5 818.8,623.8 820.0,623.9 821.2,624.3 822.5,624.4 823.8,624.6 825.0,624.9 826.2,625.1 827.5,625.3 828.8,625.6 830.0,625.9 831.2,626.2 832.5,626.4 833.8,626.5 835.0,626.6 836.2,626.8 837.5,626.8 838.8,626.9 840.0,627.1 841.2,627.3 842.5,627.5 843.8,627.6 845.0,627.7 846.2,627.8 847.5,627.9 848.8,628.1 850.0,628.2 851.2,628.4 852.5,628.6 853.8,628.7 855.0,628.9 856.2,629.0 857.5,629.1 858.8,629.2 860.0,629.3 861.2,629.5 862.5,629.5 863.8,629.6 865.0,629.7 866.2,629.8 867.5,629.9 868.8,630.0 870.0,630.1 871.2,630.3 872.5,630.4 873.8,630.5 875.0,630.6 876.2,630.7 877.5,630.8 878.8,630.8 880.0,630.9 881.2,631.1 882.5,631.1 883.8,631.1 885.0,631.2 886.2,631.3 887.5,631.4 888.8,631.4 890.0,631.5 891.2,631.6 892.5,631.7 893.8,631.8 895.0,631.8 896.2,631.9 897.5,631.9 898.8,632.0 900.0,632.1 901.3,632.2 902.6,632.3 903.8,632.4 905.1,632.5 906.4,632.6 907.7,632.7 908.9,632.7 910.2,632.8 911.5,632.9 912.7,632.9 914.0,633.0" stroke="#008000" stroke-width="4.95"/>
</g>
<g stroke="#000" stroke-width="2.55" fill="none" stroke-linecap="butt">
<rect x="113.1" y="50.5" width="799.65" height="587.5"/>
<line x1="113.1" y1="638.0" x2="113.1" y2="650.5"/>
<line x1="248.5" y1="50.5" x2="248.5" y2="57.0"/>
<line x1="248.5" y1="638.0" x2="248.5" y2="644.5"/>
<line x1="327.7" y1="50.5" x2="327.7" y2="57.0"/>
<line x1="327.7" y1="638.0" x2="327.7" y2="644.5"/>
<line x1="383.9" y1="50.5" x2="383.9" y2="57.0"/>
<line x1="383.9" y1="638.0" x2="383.9" y2="644.5"/>
<line x1="427.5" y1="50.5" x2="427.5" y2="57.0"/>
<line x1="427.5" y1="638.0" x2="427.5" y2="644.5"/>
<line x1="463.1" y1="50.5" x2="463.1" y2="57.0"/>
<line x1="463.1" y1="638.0" x2="463.1" y2="644.5"/>
<line x1="493.2" y1="50.5" x2="493.2" y2="57.0"/>
<line x1="493.2" y1="638.0" x2="493.2" y2="644.5"/>
<line x1="519.3" y1="50.5" x2="519.3" y2="57.0"/>
<line x1="519.3" y1="638.0" x2="519.3" y2="644.5"/>
<line x1="542.3" y1="50.5" x2="542.3" y2="57.0"/>
<line x1="542.3" y1="638.0" x2="542.3" y2="644.5"/>
<line x1="562.9" y1="50.5" x2="562.9" y2="63.0"/>
<line x1="562.9" y1="638.0" x2="562.9" y2="650.5"/>
<line x1="698.2" y1="50.5" x2="698.2" y2="57.0"/>
<line x1="698.2" y1="638.0" x2="698.2" y2="644.5"/>
<line x1="777.4" y1="50.5" x2="777.4" y2="57.0"/>
<line x1="777.4" y1="638.0" x2="777.4" y2="644.5"/>
<line x1="833.6" y1="50.5" x2="833.6" y2="57.0"/>
<line x1="833.6" y1="638.0" x2="833.6" y2="644.5"/>
<line x1="877.2" y1="50.5" x2="877.2" y2="57.0"/>
<line x1="877.2" y1="638.0" x2="877.2" y2="644.5"/>
<line x1="912.8" y1="638.0" x2="912.8" y2="644.5"/>
<line x1="100.3" y1="638.0" x2="113.1" y2="638.0"/>
<line x1="106.3" y1="540.1" x2="113.1" y2="540.1"/>
<line x1="906.2" y1="540.1" x2="912.75" y2="540.1"/>
<line x1="100.3" y1="442.2" x2="113.1" y2="442.2"/>
<line x1="900.2" y1="442.2" x2="912.75" y2="442.2"/>
<line x1="106.3" y1="344.2" x2="113.1" y2="344.2"/>
<line x1="906.2" y1="344.2" x2="912.75" y2="344.2"/>
<line x1="100.3" y1="246.3" x2="113.1" y2="246.3"/>
<line x1="900.2" y1="246.3" x2="912.75" y2="246.3"/>
<line x1="106.3" y1="148.4" x2="113.1" y2="148.4"/>
<line x1="906.2" y1="148.4" x2="912.75" y2="148.4"/>
<line x1="100.3" y1="50.5" x2="113.1" y2="50.5"/>
</g>
<text class="t" x="113.1" y="31.2" text-anchor="middle">10</text>
<text class="t" x="113.1" y="678.5" text-anchor="middle">10</text>
<text class="t" x="562.9" y="31.2" text-anchor="middle">100</text>
<text class="t" x="562.9" y="678.5" text-anchor="middle">100</text>
<text class="t" x="93.2" y="644.7" text-anchor="end">0</text>
<text class="t" x="93.2" y="448.9" text-anchor="end">4</text>
<text class="t" x="93.2" y="253.0" text-anchor="end">8</text>
<text class="t" x="93.2" y="57.2" text-anchor="end">12</text>
<text class="t" x="926" y="645.3">0,00</text>
<text class="t" x="926" y="449.5">0,06</text>
<text class="t" x="926" y="253.6">0,12</text>
<text class="t" x="926" y="57.8">0,18</text>
<text class="b" x="295.5" y="729">Hydrodynamic diameter / nm</text>
<text class="b" transform="translate(52.9 418.8) rotate(-90)">Mg (ng.nm<tspan font-size="19.5" dy="-14.8">-1</tspan><tspan dy="14.8">)</tspan></text>
<text class="b" transform="translate(1007 462) rotate(-90)"><tspan fill="#ff0000">La</tspan>, <tspan fill="#0000ff">Eu</tspan>, <tspan fill="#008000">Yb</tspan> (ng.nm<tspan font-size="19.5" dy="-14.8">-1</tspan><tspan dy="14.8">)</tspan></text>
<rect x="294.7" y="99.2" width="154.7" height="44.2" fill="#000"/><rect x="286.3" y="90.8" width="154.7" height="44.2" fill="#fff" stroke="#000" stroke-width="1"/>
<g fill="#000"><circle cx="302.3" cy="113" r="3.7"/><circle cx="315.7" cy="113" r="3.7"/><circle cx="329.1" cy="113" r="3.7"/><circle cx="342.5" cy="113" r="3.7"/><circle cx="355.9" cy="113" r="3.7"/><circle cx="369.3" cy="113" r="3.7"/></g>
<text x="380.9" y="124" font-size="31.8" fill="#000">Mg</text>
<rect x="228.9" y="245.8" width="51.30000000000001" height="46.099999999999994" fill="#000"/><rect x="220.5" y="237.4" width="51.30000000000001" height="46.099999999999994" fill="#fff" stroke="#000" stroke-width="1"/>
<text class="b" x="225.9" y="271" style="fill:#0000ff">Eu</text>
<rect x="202.70000000000002" y="505.4" width="46.19999999999999" height="45.5" fill="#000"/><rect x="194.3" y="497" width="46.19999999999999" height="45.5" fill="#fff" stroke="#000" stroke-width="1"/>
<text class="b" x="198.9" y="530.8" style="fill:#ff0000">La</text>
<rect x="539.3" y="392.0" width="55.89999999999998" height="50.599999999999966" fill="#000"/><rect x="530.9" y="383.6" width="55.89999999999998" height="50.599999999999966" fill="#fff" stroke="#000" stroke-width="1"/>
<text class="b" x="538.6" y="420" style="fill:#008000">Yb</text>
<line x1="273.4" y1="295.3" x2="296.7" y2="352.4" stroke="#0000ff" stroke-width="1.15"/><polygon points="302.4,366.5 293.0,353.9 300.3,350.9" fill="#0000ff"/>
<line x1="249.3" y1="518.2" x2="281.7" y2="497.6" stroke="#ff0000" stroke-width="1.15"/><polygon points="294.5,489.5 283.8,501.0 279.6,494.3" fill="#ff0000"/>
<line x1="526.8" y1="425" x2="510.6" y2="437.2" stroke="#008000" stroke-width="1.15"/><polygon points="498.5,446.3 508.3,434.0 513.0,440.3" fill="#008000"/>
<line x1="381" y1="345.5" x2="402.2" y2="333.0" stroke="#000" stroke-width="1.15"/><polygon points="415.3,325.3 404.2,336.4 400.2,329.6" fill="#000"/>
</svg></body></html>
